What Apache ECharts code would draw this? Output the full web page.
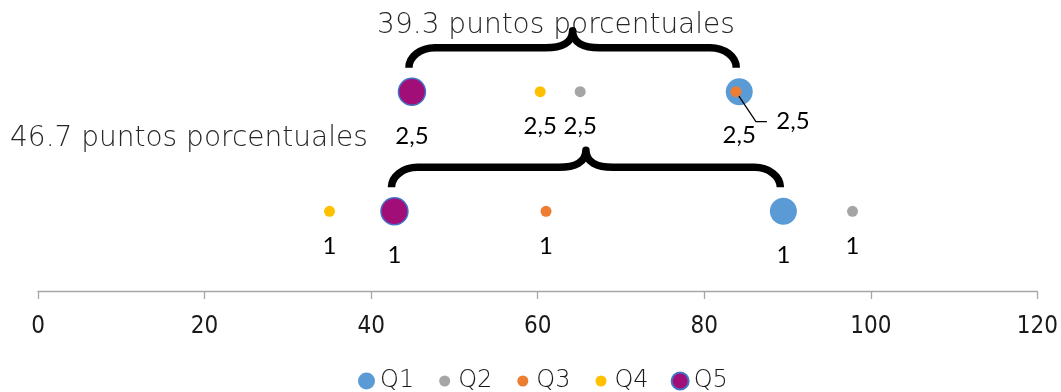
<!DOCTYPE html>
<html>
<head>
<meta charset="utf-8">
<script src="https://cdn.jsdelivr.net/npm/echarts@6/dist/echarts.min.js"></script>
<style>
  html, body { margin: 0; padding: 0; background: #fff; }
  #chart { width: 1061px; height: 392px; }
</style>
</head>
<body>
<div id="chart"></div>
<script>
// Row levels (y values) for the two comparisons
const rows = [2.5, 1];
// Quintile positions on each row (x values)
const q1 = [84.2, 89.5];
const q2 = [65.1, 97.8];
const q3 = [83.8, 61.0];
const q4 = [60.3, 35.0];
const q5 = [44.9, 42.8];
const seriesNames = ['Q1', 'Q2', 'Q3', 'Q4', 'Q5'];
const xTicks = { min: 0, max: 120, interval: 20 };

const colors = {
  Q1: '#5B9BD5', Q2: '#A5A5A5', Q3: '#ED7D31', Q4: '#FFC000', Q5: '#A10E78'
};

// Gap between Q5 and Q1 on each row
const gaps = rows.map((r, i) => +(q1[i] - q5[i]).toFixed(1));
const braces = rows.map((r, i) => [q5[i], q1[i], r]);
// Point whose label is pulled aside with a leader line (Q3, first row)
const leaders = [[q3[0], rows[0]]];

const toPoints = arr => arr.map((v, i) => [v, rows[i]]);
const fmt = p => String(p.value[1]).replace('.', ',');

const labelFont = { fontFamily: 'Lato, "Open Sans", sans-serif', fontSize: 24, color: '#000' };
const thinFont = '"DejaVu Sans", sans-serif';

function scatter(name, values, size, extra) {
  return Object.assign({
    name, type: 'scatter', data: toPoints(values), symbol: 'circle', symbolSize: size,
    itemStyle: { color: colors[name], opacity: 1 },
    label: Object.assign({ show: true, position: 'bottom', distance: size > 20 ? 18 : 17, formatter: fmt }, labelFont),
    emphasis: { disabled: true },
    z: 3
  }, extra || {});
}

// Small dot inside a larger box so legend icons keep different sizes
const smallDot = 'path://M0,0 M17,17 M8.5,3 A5.5,5.5 0 1,1 8.5,14 A5.5,5.5 0 1,1 8.5,3 Z';

function renderBrace(params, api) {
  const yv = api.value(2);
  const a = api.coord([api.value(0), yv]);
  const b = api.coord([api.value(1), yv]);
  const xl = a[0] - 3, xr = b[0] - 3, yr = a[1];
  const xm = (xl + xr) / 2;
  const ye = yr - 24, yh = yr - 44, yp = yr - 61;
  const cw = 26, mw = 27;
  const d = [
    'M', xl, ye,
    'C', xl, ye - 0.55 * (ye - yh), xl + cw * 0.45, yh, xl + cw, yh,
    'L', xm - mw, yh,
    'C', xm - mw * 0.4, yh, xm, yh - (yh - yp) * 0.3, xm, yp,
    'C', xm, yh - (yh - yp) * 0.3, xm + mw * 0.4, yh, xm + mw, yh,
    'L', xr - cw, yh,
    'C', xr - cw * 0.45, yh, xr, ye - 0.55 * (ye - yh), xr, ye
  ].join(' ');
  return {
    type: 'path',
    shape: { pathData: d },
    style: { fill: 'none', stroke: '#000', lineWidth: 7.5, lineCap: 'butt', lineJoin: 'round' }
  };
}

function renderLeader(params, api) {
  const p = api.coord([api.value(0), api.value(1)]);
  return {
    type: 'polyline',
    shape: { points: [[p[0], p[1]], [p[0] + 20, p[1] + 30], [p[0] + 31, p[1] + 30]] },
    style: { fill: 'none', stroke: '#000', lineWidth: 1.3 }
  };
}

const chart = echarts.init(document.getElementById('chart'), null, { renderer: 'canvas' });

chart.setOption({
  animation: false,
  backgroundColor: '#fff',
  grid: { left: 38, right: 21, top: 12, bottom: 101, containLabel: false },
  xAxis: {
    type: 'value', min: xTicks.min, max: xTicks.max, interval: xTicks.interval,
    axisLine: { show: true, lineStyle: { color: '#A6A6A6', width: 1.3 } },
    axisTick: { show: true, length: 8, lineStyle: { color: '#A6A6A6', width: 1.3 } },
    splitLine: { show: false },
    axisLabel: {
      margin: 24, color: '#1a1a1a', fontSize: 24,
      fontFamily: '"Liberation Sans Narrow", "DejaVu Sans Condensed", sans-serif'
    }
  },
  yAxis: { type: 'value', min: 0, max: 3.5, show: false },
  legend: {
    left: 353, top: 364, itemWidth: 17, itemHeight: 17, itemGap: 22,
    textStyle: { fontFamily: thinFont, fontSize: 24, color: '#1a1a1a', fontWeight: 300 },
    data: [
      { name: 'Q1', icon: 'circle' },
      { name: 'Q2', icon: smallDot },
      { name: 'Q3', icon: smallDot },
      { name: 'Q4', icon: smallDot },
      { name: 'Q5', icon: 'circle' }
    ],
    selectedMode: false
  },
  graphic: [
    {
      type: 'text', x: 556, y: 26,
      style: {
        text: gaps[0] + ' puntos porcentuales', align: 'center', verticalAlign: 'middle',
        font: '300 28px ' + thinFont, fill: '#262626'
      }, z: 1
    },
    {
      type: 'text', x: 10, y: 139,
      style: {
        text: gaps[1] + ' puntos porcentuales', align: 'left', verticalAlign: 'middle',
        font: '300 28px ' + thinFont, fill: '#262626'
      }, z: 1
    }
  ],
  series: [
    scatter('Q1', q1, 27),
    scatter('Q2', q2, 11),
    scatter('Q3', q3, 11, {
      labelLayout: p => (p.dataIndex === 0 ? { dx: 57, dy: -5 } : {}),
      z: 5
    }),
    scatter('Q4', q4, 11),
    scatter('Q5', q5, 27, {
      itemStyle: { color: colors.Q5, borderColor: '#4472C4', borderWidth: 1.5, opacity: 1 }
    }),
    {
      type: 'custom', name: 'brace', data: braces, renderItem: renderBrace,
      encode: { x: [0, 1], y: 2 }, clip: false, silent: true, z: 2
    },
    {
      type: 'custom', name: 'leader', data: leaders, renderItem: renderLeader,
      encode: { x: 0, y: 1 }, clip: false, silent: true, z: 4
    }
  ]
});
</script>
</body>
</html>
